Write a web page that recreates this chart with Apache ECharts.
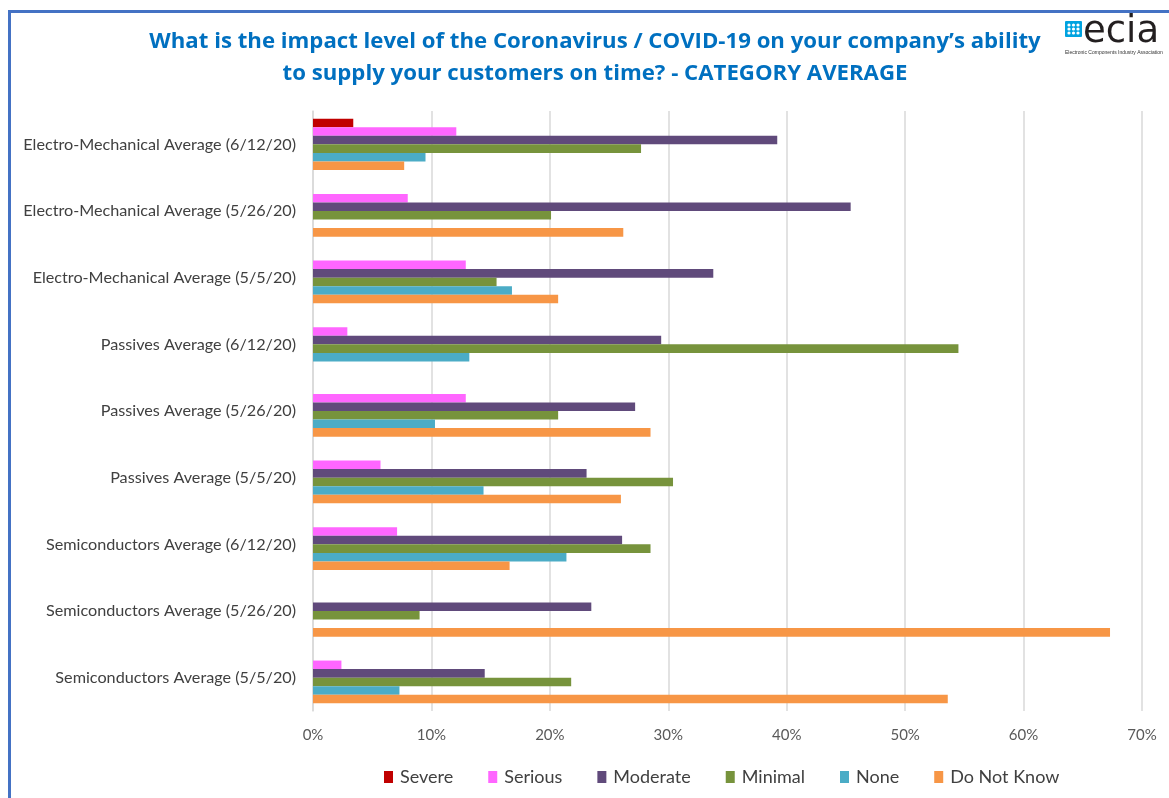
<!DOCTYPE html>
<html>
<head>
<meta charset="utf-8">
<script src="https://cdn.jsdelivr.net/npm/echarts@6/dist/echarts.min.js"></script>
<style>
html,body{margin:0;padding:0;background:#fff;}
#chart{width:1169px;height:798px;}
</style>
</head>
<body>
<div id="chart"></div>
<script>
const categories = [
  'Electro-Mechanical Average (6/12/20)',
  'Electro-Mechanical Average (5/26/20)',
  'Electro-Mechanical Average (5/5/20)',
  'Passives Average (6/12/20)',
  'Passives Average (5/26/20)',
  'Passives Average (5/5/20)',
  'Semiconductors Average (6/12/20)',
  'Semiconductors Average (5/26/20)',
  'Semiconductors Average (5/5/20)'
];
const seriesNames = ['Severe', 'Serious', 'Moderate', 'Minimal', 'None', 'Do Not Know'];
const severe   = [3.4, 0, 0, 0, 0, 0, 0, 0, 0];
const serious  = [12.1, 8.0, 12.9, 2.9, 12.9, 5.7, 7.1, 0, 2.4];
const moderate = [39.2, 45.4, 33.8, 29.4, 27.2, 23.1, 26.1, 23.5, 14.5];
const minimal  = [27.7, 20.1, 15.5, 54.5, 20.7, 30.4, 28.5, 9.0, 21.8];
const noneVals = [9.5, 0, 16.8, 13.2, 10.3, 14.4, 21.4, 0, 7.3];
const doNotKnow = [7.7, 26.2, 20.7, 0, 28.5, 26.0, 16.6, 67.3, 53.6];
const xTicks = [0, 10, 20, 30, 40, 50, 60, 70];

const colors = ['#C00000', '#FF66FF', '#604A7B', '#77933C', '#4BACC6', '#F79646'];
const values = [severe, serious, moderate, minimal, noneVals, doNotKnow];

const font = 'Lato, "Open Sans", "Liberation Sans", sans-serif';

const chart = echarts.init(document.getElementById('chart'), null, {renderer: 'canvas'});
chart.setOption({
  animation: false,
  backgroundColor: '#ffffff',
  grid: {left: 313, right: 27, top: 111, bottom: 87, containLabel: false},
  xAxis: {
    type: 'value',
    min: xTicks[0],
    max: xTicks[xTicks.length - 1],
    interval: 10,
    axisLine: {show: false},
    axisTick: {show: false},
    splitLine: {lineStyle: {color: '#D9D9D9', width: 1.5}},
    axisLabel: {
      formatter: v => v + '%',
      color: '#595959', fontSize: 15, fontFamily: font, margin: 17
    }
  },
  yAxis: {
    type: 'category',
    data: categories,
    inverse: true,
    axisLine: {show: true, lineStyle: {color: '#D9D9D9', width: 1.5}},
    axisTick: {show: false},
    axisLabel: {color: '#404040', fontSize: 16.2, fontFamily: font, margin: 17}
  },
  legend: {
    data: seriesNames,
    left: 379, top: 763,
    itemWidth: 9, itemHeight: 12, itemGap: 35,
    icon: 'rect',
    textStyle: {color: '#404040', fontSize: 18, fontFamily: font, padding: [0, 0, 0, 2]}
  },
  series: seriesNames.map((name, i) => ({
    name: name,
    type: 'bar',
    data: values[i],
    barGap: '0%',
    barCategoryGap: '23%',
    itemStyle: {color: colors[i]}
  })),
  graphic: [
    {
      type: 'rect',
      shape: {x: 9.5, y: 11.5, width: 1200, height: 900},
      style: {fill: null, stroke: '#4472C4', lineWidth: 3},
      silent: true
    },
    {
      type: 'text',
      x: 595, y: 26,
      style: {
        text: 'What is the impact level of the Coronavirus / COVID-19 on your company’s ability\nto supply your customers on time? - CATEGORY AVERAGE',
        align: 'center', verticalAlign: 'top',
        fill: '#0070C0', font: 'bold 22.2px "Open Sans", Lato, sans-serif', lineHeight: 32
      }
    },
    {
      type: 'group',
      x: 1065, y: 20,
      children: [
        {type: 'rect', shape: {x: 0, y: 1, width: 17, height: 16, r: 1}, style: {fill: '#00A3E0'}},
        {type: 'circle', shape: {cx: 4, cy: 5, r: 1.6}, style: {fill: '#fff'}},
        {type: 'circle', shape: {cx: 8.5, cy: 5, r: 1.6}, style: {fill: '#fff'}},
        {type: 'circle', shape: {cx: 13, cy: 5, r: 1.6}, style: {fill: '#fff'}},
        {type: 'circle', shape: {cx: 4, cy: 9, r: 1.6}, style: {fill: '#fff'}},
        {type: 'circle', shape: {cx: 8.5, cy: 9, r: 1.6}, style: {fill: '#fff'}},
        {type: 'circle', shape: {cx: 13, cy: 9, r: 1.6}, style: {fill: '#fff'}},
        {type: 'circle', shape: {cx: 4, cy: 13, r: 1.6}, style: {fill: '#fff'}},
        {type: 'circle', shape: {cx: 8.5, cy: 13, r: 1.6}, style: {fill: '#fff'}},
        {type: 'circle', shape: {cx: 13, cy: 13, r: 1.6}, style: {fill: '#fff'}},
        {type: 'text', x: 18, y: 12, style: {text: 'ecia', fill: '#231F20', verticalAlign: 'middle', font: '37px "DejaVu Sans", sans-serif'}},
        {type: 'text', x: 0, y: 30, style: {text: 'Electronic Components Industry Association', fill: '#333', font: '5px "Liberation Sans Narrow", "Liberation Sans", sans-serif'}}
      ]
    }
  ]
});
</script>
</body>
</html>
